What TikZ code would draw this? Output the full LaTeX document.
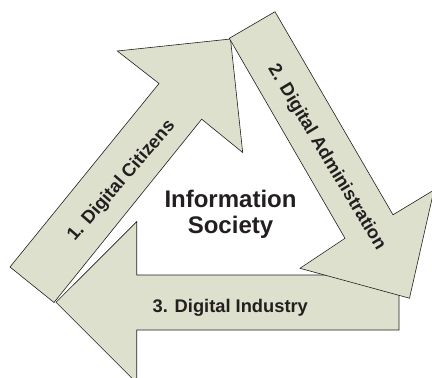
\documentclass[tikz,border=0pt]{standalone}
\usepackage{fontspec}
\setmainfont{Liberation Sans}
\definecolor{arrowfill}{RGB}{221,224,204}
\definecolor{edgecol}{RGB}{35,31,32}
\tikzset{
  bigarrow/.style={fill=arrowfill, draw=edgecol, line width=0.6pt, line join=miter},
  lbl/.style={font=\fontsize{18.3}{20}\selectfont\bfseries, text=edgecol, inner sep=0pt},
  ttl/.style={font=\fontsize{24}{26}\selectfont\bfseries, text=edgecol, inner sep=0pt, anchor=base}
}
\begin{document}
\begin{tikzpicture}[x=1pt,y=-1pt]
\useasboundingbox (0,0) rectangle (432,378);
\clip (0,0) rectangle (432,378);
% arrow 1
\path[bigarrow] (10,267) -- (159,83.5) -- (117.3,51) -- (230.5,39) -- (242.7,152.5) -- (201.7,119.2) -- (54,302.5) -- cycle;
% arrow 3
\path[bigarrow] (56,302.3) -- (136.7,221.7) -- (136.7,275) -- (399,275) -- (399,330) -- (136.7,330) -- (136.7,383) -- cycle;
% arrow 2
\path[bigarrow] (229.3,38.3) -- (275,11.7) -- (393,214.8) -- (434,190) -- (409.5,298.2) -- (300,268.3) -- (345,238.3) -- cycle;
% labels
\node[lbl, rotate=49] (l1) at (121.7,181) {1. Digital Citizens};
\node[lbl, rotate=-59] (l2) at (326.5,157.5) {2. Digital Administration};
\node[lbl, anchor=base] (l3) at (230.3,312.3) {3. Digital Industry};
\node[ttl] (t1) at (230.5,207.3) {Information};
\node[ttl] (t2) at (230.5,233.3) {Society};
\end{tikzpicture}
\end{document}
